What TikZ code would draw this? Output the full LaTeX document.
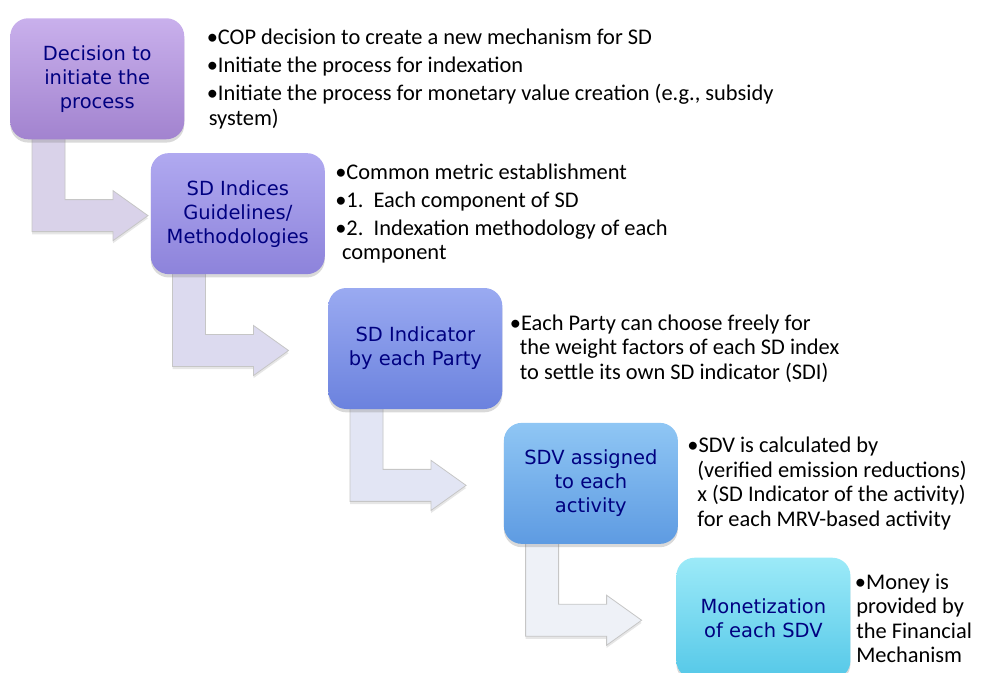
\documentclass[tikz,border=0pt]{standalone}
\usepackage{fontspec}
\setmainfont{Carlito}
\newfontfamily\boxfont{DejaVu Sans}
\usetikzlibrary{positioning, calc, shadows}
\pgfdeclarelayer{background}
\pgfsetlayers{background,main}

\definecolor{boxtext}{RGB}{0,0,128}
\definecolor{dectop}{HTML}{C9B0EC}
\definecolor{decbot}{HTML}{A283CF}
\definecolor{idxtop}{HTML}{B0A9F0}
\definecolor{idxbot}{HTML}{8D83DB}
\definecolor{indtop}{HTML}{9AAAF1}
\definecolor{indbot}{HTML}{6B82DE}
\definecolor{sdvtop}{HTML}{8FC6F4}
\definecolor{sdvbot}{HTML}{5E9BE2}
\definecolor{montop}{HTML}{9CEAF8}
\definecolor{monbot}{HTML}{55C8E8}
\definecolor{bendA}{HTML}{D9D2E9}
\definecolor{bendB}{HTML}{DCDAEF}
\definecolor{bendC}{HTML}{E2E5F4}
\definecolor{bendD}{HTML}{EEF1F7}

\begin{document}
\begin{tikzpicture}[
  x=0.75pt, y=-0.75pt,
  stage/.style={rounded corners=13.5pt, minimum width=130.5pt, minimum height=90.75pt,
                align=center, text=boxtext, inner sep=2pt,
                font=\boxfont\fontsize{14.6}{18}\selectfont,
                drop shadow={opacity=0.3, shadow xshift=0pt, shadow yshift=-2.5pt}},
  note/.style={align=left, inner sep=0pt, font=\fontsize{16.8}{18.4}\selectfont},
  bent/.style={draw=gray!45, line width=0.6pt, line join=miter,
               drop shadow={opacity=0.2, shadow xshift=0pt, shadow yshift=-2pt}}
]
\useasboundingbox (0,0) rectangle (987,673);

% the five stages, stepping down to the right
\node[stage, top color=dectop, bottom color=decbot, anchor=north west] (dec) at (10,18)
  {Decision to\\ initiate the\\ process};
\node[stage, top color=idxtop, bottom color=idxbot, below right=10pt and -25.5pt of dec] (idx)
  {SD Indices\\ Guidelines/\\ Methodologies};
\node[stage, top color=indtop, bottom color=indbot, below right=10pt and 2.25pt of idx] (ind)
  {SD Indicator\\ by each Party};
\node[stage, top color=sdvtop, bottom color=sdvbot, below right=10pt and 0.75pt of ind] (sdv)
  {SDV assigned\\ to each\\ activity};
\node[stage, top color=montop, bottom color=monbot, below right=10pt and -1.5pt of sdv] (mon)
  {Monetization\\ of each SDV};

% notes beside each stage
\node[note, right=16.5pt of dec] (decnote)
  {•COP decision to create a new mechanism for SD\\[2.6pt]
   •Initiate the process for indexation\\[2.6pt]
   •Initiate the process for monetary value creation (e.g., subsidy\\
   \hspace*{1.5pt}system)};
\node[note, right=7.5pt of idx] (idxnote)
  {•Common metric establishment\\[2.6pt]
   •1.\ \ Each component of SD\\[2.6pt]
   •2.\ \ Indexation methodology of each\\
   \hspace*{5pt}component};
\node[note, right=5.25pt of ind] (indnote)
  {•Each Party can choose freely for\\
   \hspace*{7.5pt}the weight factors of each SD index\\
   \hspace*{7.5pt}to settle its own SD indicator (SDI)};
\node[note, right=6.75pt of sdv] (sdvnote)
  {•SDV is calculated by\\
   \hspace*{7.5pt}(verified emission reductions)\\
   \hspace*{7.5pt}x (SD Indicator of the activity)\\
   \hspace*{7.5pt}for each MRV-based activity};
\node[note, right=3pt of mon] (monnote)
  {•Money is\\
   \hspace*{1pt}provided by\\
   \hspace*{1pt}the Financial\\
   \hspace*{1pt}Mechanism};

% bent arrows between the stages
\begin{pgfonlayer}{background}
\foreach \a/\b/\c in {dec/idx/bendA, idx/ind/bendB, ind/sdv/bendC, sdv/mon/bendD}{
  \coordinate (s) at ($(\a.south west)+(22,-8)$);
  \coordinate (t) at ($(\a.south west)+(138,0)$);
  \draw[bent, fill=\c] (s) -- ++(33,0) |- ($(t |- \b.west)+(-35,-14)$) -- ++(0,-9)
    -- ($(t |- \b.west)+(0,2)$) -- ++(-35,25) -- ++(0,-9) -| (s) -- cycle;
}
\end{pgfonlayer}
\end{tikzpicture}
\end{document}
